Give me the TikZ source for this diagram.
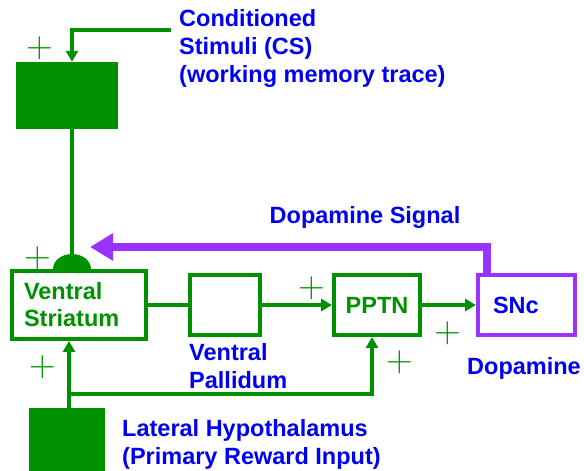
\documentclass[tikz,border=0pt]{standalone}
\usepackage{fontspec}
\usepackage{tikz}
\usetikzlibrary{arrows.meta,positioning}
\newfontfamily\labelfont{Liberation Sans}
\definecolor{RewGreen}{HTML}{009100}
\definecolor{RewBlue}{HTML}{0000F0}
\definecolor{RewPurple}{HTML}{9933FF}

\begin{document}
\begin{tikzpicture}[
  x=1pt,y=1pt,
  box/.style={draw=RewGreen,line width=4pt,fill=white,minimum height=60pt,inner sep=0pt,
    font=\labelfont\bfseries\fontsize{23.5}{27}\selectfont,text=RewGreen},
  cellfill/.style={fill=RewGreen,inner sep=0pt},
  txt/.style={font=\labelfont\bfseries\fontsize{23.5}{28}\selectfont,text=RewBlue,
    align=left,inner sep=0pt},
  plus/.style={font=\fontsize{37}{37}\selectfont,text=RewGreen,inner sep=0pt},
  link/.style={draw=RewGreen,line width=4pt},
  arrow/.style={-{Triangle[length=11pt,width=12pt]},line width=4pt,color=RewGreen},
  dopa/.style={-{Triangle[length=23pt,width=26pt]},line width=8pt,color=RewPurple}
]
  \useasboundingbox (0,0) rectangle (584,471);
  \node[cellfill,minimum width=102pt,minimum height=67pt] (cs) at (67,375.5) {};
  \node[box,minimum height=68pt,text width=110pt,inner xsep=12pt,align=left] (vs) at (79,166) {Ventral\\Striatum};
  \node[box,minimum width=70pt] (vp) at (225,166) {};
  \node[box,minimum width=86pt] (pptn) at (377,166) {PPTN};
  \node[box,draw=RewPurple,text=RewBlue,text width=67pt,inner xsep=15pt,align=left] (snc) at (526.5,166) {SNc};
  \node[cellfill,minimum width=76pt,minimum height=63pt] (lh) at (67,31.5) {};

  \node[txt,anchor=west] (cstext) at (179,423) {Conditioned\\Stimuli (CS)\\(working memory trace)};
  \node[txt] (dsig) at (365,254) {Dopamine Signal};
  \node[txt,anchor=west] (vptext) at (189,105) {Ventral\\Pallidum};
  \node[txt] (dtext) at (524,103) {Dopamine};
  \node[txt,anchor=west] (lhtext) at (122,27) {Lateral Hypothalamus\\(Primary Reward Input)};

  \node[plus] (pcs) at (40,423) {+};
  \node[plus] (pdome) at (38,213) {+};
  \node[plus] (plh) at (43,104) {+};
  \node[plus] (pvp) at (312,183) {+};
  \node[plus] (plow) at (400,109) {+};
  \node[plus] (psnc) at (448,138) {+};

  \coordinate (csin) at (171,441);
  \coordinate (dome) at ([xshift=-7pt]vs.north);
  \coordinate (dsend) at (90,224);
  \coordinate (lhout) at ([xshift=2pt]lh.north);
  \coordinate (fork) at ([shift={(2,14)}]lh.north);

  \draw[arrow] (csin) -| ([xshift=5pt]cs.north);
  \fill[RewGreen] ([xshift=-19pt]dome) arc[start angle=180,end angle=0,x radius=19,y radius=15] -- cycle;
  \draw[link] ([xshift=5pt]cs.south) -- ([yshift=14pt]dome);
  \draw[link] (vs) -- (vp);
  \draw[arrow] (vp) -- (pptn);
  \draw[arrow] (pptn) -- (snc);
  \draw[dopa] ([xshift=-39.5pt]snc.north) |- (dsend);
  \draw[arrow] (lhout) -- (lhout |- vs.south);
  \draw[arrow] (fork) -| ([xshift=-5pt]pptn.south);
\end{tikzpicture}
\end{document}
